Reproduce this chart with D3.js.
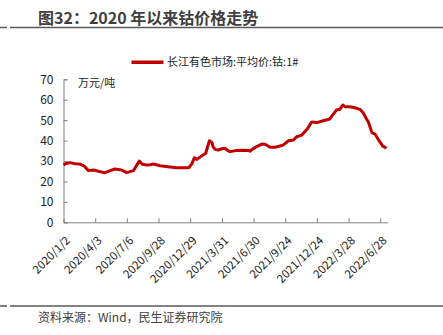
<!DOCTYPE html>
<html><head><meta charset="utf-8">
<script src="https://cdn.jsdelivr.net/npm/d3@7"></script>
<style>
html,body{margin:0;padding:0;background:#fff;}
svg{display:block;font-family:"Noto Sans CJK SC","Noto Sans",sans-serif;}
</style></head>
<body>
<script>
// trading-day index of each sampled point and cobalt price (万元/吨)
const days = [0,5,13,23,32,40,48,58,69,80,90,99,112,122,128,135,140,146,151,160,167,173,186,201,218,241,247,252,257,266,274,277,281,286,288,292,298,305,311,317,321,334,346,356,359,366,373,382,388,398,407,415,423,433,443,449,459,469,478,488,500,513,516,526,532,538,542,552,565,571,577,584,587,594,600,606,615,622];
const prices = [28.0,28.8,29.2,28.6,28.5,27.5,25.3,25.6,24.9,24.3,25.3,26.1,25.6,24.3,24.8,25.3,27.5,30.0,28.5,28.0,28.2,28.5,27.7,27.2,26.7,26.7,28.5,31.6,30.8,32.5,33.8,36.5,39.9,39.0,37.0,35.7,35.4,36.0,36.2,35.0,34.6,35.2,35.3,35.2,34.8,36.2,37.2,38.3,38.2,36.7,36.7,37.2,37.8,39.9,40.3,41.9,42.7,45.5,49.1,48.8,49.7,50.6,51.7,55.0,55.3,57.4,56.6,56.6,55.8,55.3,53.6,50.4,49.2,43.9,43.2,40.6,37.3,36.2];
const tickLabels = ["2020/1/2","2020/4/3","2020/7/6","2020/9/28","2020/12/29","2021/3/31","2021/6/30","2021/9/24","2021/12/24","2022/3/28","2022/6/28"];
const tickStep = 61;
const yTicks = [0,10,20,30,40,50,60,70];
const seriesName = "长江有色市场:平均价:钴:1#";
const title = "图32：2020 年以来钴价格走势";
const unit = "万元/吨";
const source = "资料来源：Wind，民生证券研究院";

const W = 443, H = 335;
const svg = d3.select("body").append("svg").attr("width", W).attr("height", H);

// title and rules
svg.append("text").attr("x", 38).attr("y", 24).attr("font-size", 16).attr("font-weight", "bold")
  .attr("fill", "#404040").text(title);
svg.append("line").attr("x1", 0).attr("x2", 7).attr("y1", 27.5).attr("y2", 27.5).attr("stroke", "#595959").attr("stroke-width", 1.5);
svg.append("line").attr("x1", 10).attr("x2", 443).attr("y1", 27.5).attr("y2", 27.5).attr("stroke", "#595959").attr("stroke-width", 1.5);
svg.append("line").attr("x1", 0).attr("x2", 7).attr("y1", 306).attr("y2", 306).attr("stroke", "#595959").attr("stroke-width", 1.5);
svg.append("line").attr("x1", 10).attr("x2", 443).attr("y1", 306).attr("y2", 306).attr("stroke", "#595959").attr("stroke-width", 1.5);
svg.append("text").attr("x", 38).attr("y", 322).attr("font-size", 12).attr("fill", "#404040").text(source);

// scales
const x = d3.scaleLinear().domain([0, 624]).range([63.5, 387.5]);
const y = d3.scaleLinear().domain([0, 70]).range([222.3, 79.3]);

// y axis
const yAxis = svg.append("g").attr("transform", "translate(63.5,0)")
  .call(d3.axisLeft(y).tickValues(yTicks).tickSize(-4).tickPadding(10));
yAxis.select(".domain").attr("stroke", "#808080");
yAxis.selectAll(".tick line").attr("stroke", "#808080");
yAxis.selectAll("text").attr("font-size", 12).attr("fill", "#222").attr("font-family", "\"Noto Sans CJK SC\",sans-serif");

// x axis
const xAxis = svg.append("g").attr("transform", "translate(0,222.3)")
  .call(d3.axisBottom(x).tickValues(tickLabels.map((d, i) => i * tickStep)).tickSize(-4).tickSizeOuter(0)
    .tickFormat((d, i) => tickLabels[i]));
xAxis.select(".domain").attr("stroke", "#808080");
xAxis.selectAll(".tick line").attr("stroke", "#808080");
xAxis.selectAll("text").attr("font-size", 11.5).attr("fill", "#222").attr("font-family", "\"Noto Sans CJK SC\",sans-serif")
  .attr("text-anchor", "end").attr("dy", "0.35em").attr("y", 0)
  .attr("transform", "translate(4,16) rotate(-45)");

// unit label
svg.append("text").attr("x", 78).attr("y", 87).attr("font-size", 11).attr("fill", "#222").text(unit);

// line
const pts = days.map((d, i) => [d, prices[i]]);
svg.append("path").datum(pts).attr("fill", "none").attr("stroke", "#C00000").attr("stroke-width", 3)
  .attr("stroke-linejoin", "round")
  .attr("d", d3.line().x(d => x(d[0])).y(d => y(d[1])));

// legend
svg.append("line").attr("x1", 131.5).attr("x2", 163.5).attr("y1", 62.3).attr("y2", 62.3)
  .attr("stroke", "#C00000").attr("stroke-width", 3.5);
svg.append("text").attr("x", 167).attr("y", 66.3).attr("font-size", 11).attr("fill", "#222").text(seriesName);
</script>
</body></html>
